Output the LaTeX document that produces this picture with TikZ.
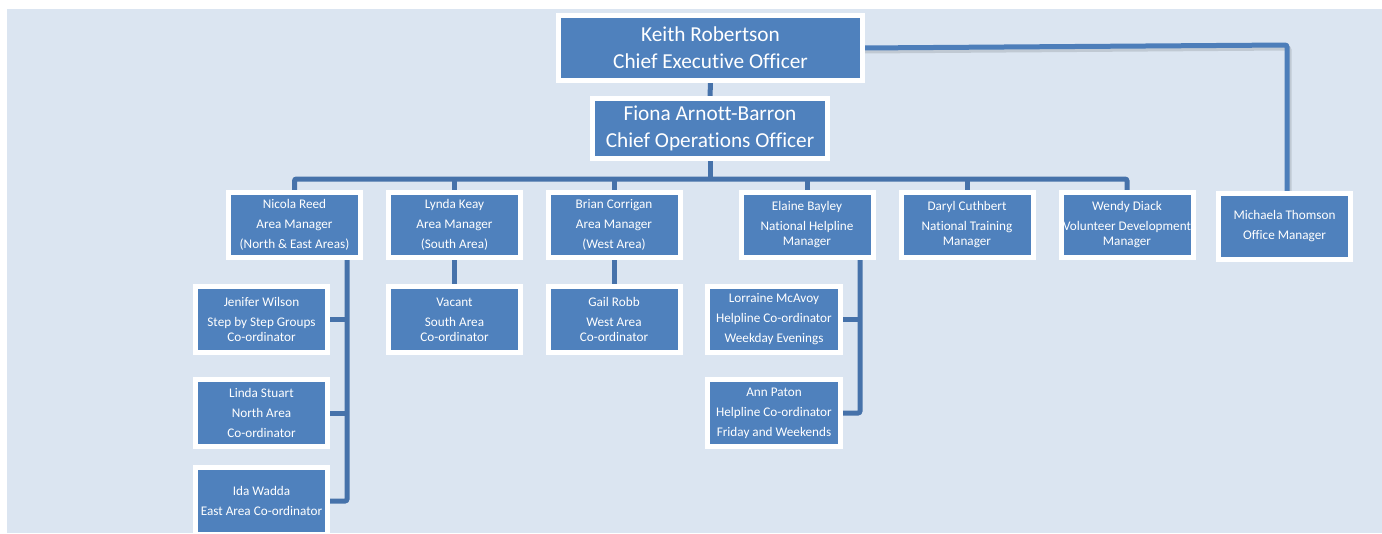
\documentclass[tikz,border=0pt]{standalone}
\usepackage{fontspec}
\setmainfont{Carlito}[Ligatures={NoCommon}]
\usetikzlibrary{backgrounds}
\definecolor{bgblue}{HTML}{DBE5F1}
\definecolor{boxblue}{HTML}{4F81BD}
\definecolor{connblue}{HTML}{4672AA}
\definecolor{ceoline}{HTML}{4D7EBA}
\begin{document}
\begin{tikzpicture}[x=1pt,y=-1pt,
  box/.style={draw=white, line width=5pt, fill=boxblue, text=white, align=center,
    inner sep=0pt, outer sep=0pt, minimum width=132pt, minimum height=65pt,
    font=\fontsize{13.2}{20}\selectfont},
  big/.style={box, font=\fontsize{21.3}{27}\selectfont},
  conn/.style={draw=connblue, line width=5pt, rounded corners=2pt}]
\useasboundingbox (0,0) rectangle (1382,533);

% top level
\node[big, minimum width=304pt, minimum height=65pt] (keith) at (710.5,48) {Keith Robertson\\Chief Executive Officer};
\node[big, minimum width=235pt, minimum height=60pt] (fiona) at (710,128.5) {Fiona Arnott-Barron\\Chief Operations Officer};

% level 2
\node[box] (nicola) at (294.5,225) {Nicola Reed\\Area Manager\\(North \& East Areas)};
\node[box] (lynda) at (454.5,225) {Lynda Keay\\Area Manager\\(South Area)};
\node[box] (brian) at (614,225) {Brian Corrigan\\Area Manager\\(West Area)};
\node[box] (elaine) at (807,225) {Elaine Bayley\\National Helpline\\[-5pt]Manager};
\node[box] (daryl) at (967,225) {Daryl Cuthbert\\National Training\\[-5pt]Manager};
\node[box] (wendy) at (1127,225) {Wendy Diack\\Volunteer Development\\[-5pt]Manager};
\node[box, minimum height=66pt] (michaela) at (1284.5,226.5) {Michaela Thomson\\Office Manager};

% level 3
\node[box, minimum height=66pt] (jenifer) at (261.5,319.5) {Jenifer Wilson\\Step by Step Groups\\[-5pt]Co-ordinator};
\node[box, minimum height=67pt] (linda) at (261.5,413) {Linda Stuart\\North Area\\Co-ordinator};
\node[box, minimum height=67pt] (ida) at (261.5,501) {Ida Wadda\\East Area Co-ordinator};
\node[box, minimum height=66pt] (vacant) at (454.5,319.5) {Vacant\\South Area\\[-5pt]Co-ordinator};
\node[box, minimum height=66pt] (gail) at (614,319.5) {Gail Robb\\West Area\\[-5pt]Co-ordinator};
\node[box, minimum width=133pt, minimum height=66pt] (lorraine) at (774,319.5) {Lorraine McAvoy\\Helpline Co-ordinator\\Weekday Evenings};
\node[box, minimum width=133pt, minimum height=67pt] (ann) at (774,413) {Ann Paton\\Helpline Co-ordinator\\Friday and Weekends};

\coordinate (busy) at (0,179);
\coordinate (nx) at (347,0);
\coordinate (ex) at (860,0);
\coordinate (mc) at (1287,45);

\begin{pgfonlayer}{background}
\fill[white] (0,0) rectangle (1382,533);
\fill[bgblue] (7,9) rectangle (1382,533);
% CEO to office manager (with soft shadow)
\draw[line width=5pt, black, opacity=0.12, rounded corners=2pt] ([shift={(2,3)}]keith.east) -- ([shift={(2,3)}]mc) -- ([shift={(2,0)}]mc |- michaela.north);
\draw[conn, draw=ceoline] (keith.east) -- (mc) -- (mc |- michaela.north);
% CEO to COO
\draw[conn] (keith.south) -- (fiona.north);
% bus
\draw[conn] (fiona.south) -- (fiona.south |- busy);
\draw[conn] (nicola.north) -- (nicola.north |- busy) -- (wendy.north |- busy) -- (wendy.north);
\foreach \n in {lynda,brian,elaine,daryl}
  \draw[conn] (\n.north) -- (\n.north |- busy);
% Nicola's team
\draw[conn] (nicola.south -| nx) -- (ida.east -| nx) -- (ida.east);
\draw[conn] (jenifer.east) -- (jenifer.east -| nx);
\draw[conn] (linda.east) -- (linda.east -| nx);
% Lynda, Brian
\draw[conn] (lynda.south) -- (vacant.north);
\draw[conn] (brian.south) -- (gail.north);
% Elaine's team
\draw[conn] (elaine.south -| ex) -- (ann.east -| ex) -- (ann.east);
\draw[conn] (lorraine.east) -- (lorraine.east -| ex);
\end{pgfonlayer}
\end{tikzpicture}
\end{document}
